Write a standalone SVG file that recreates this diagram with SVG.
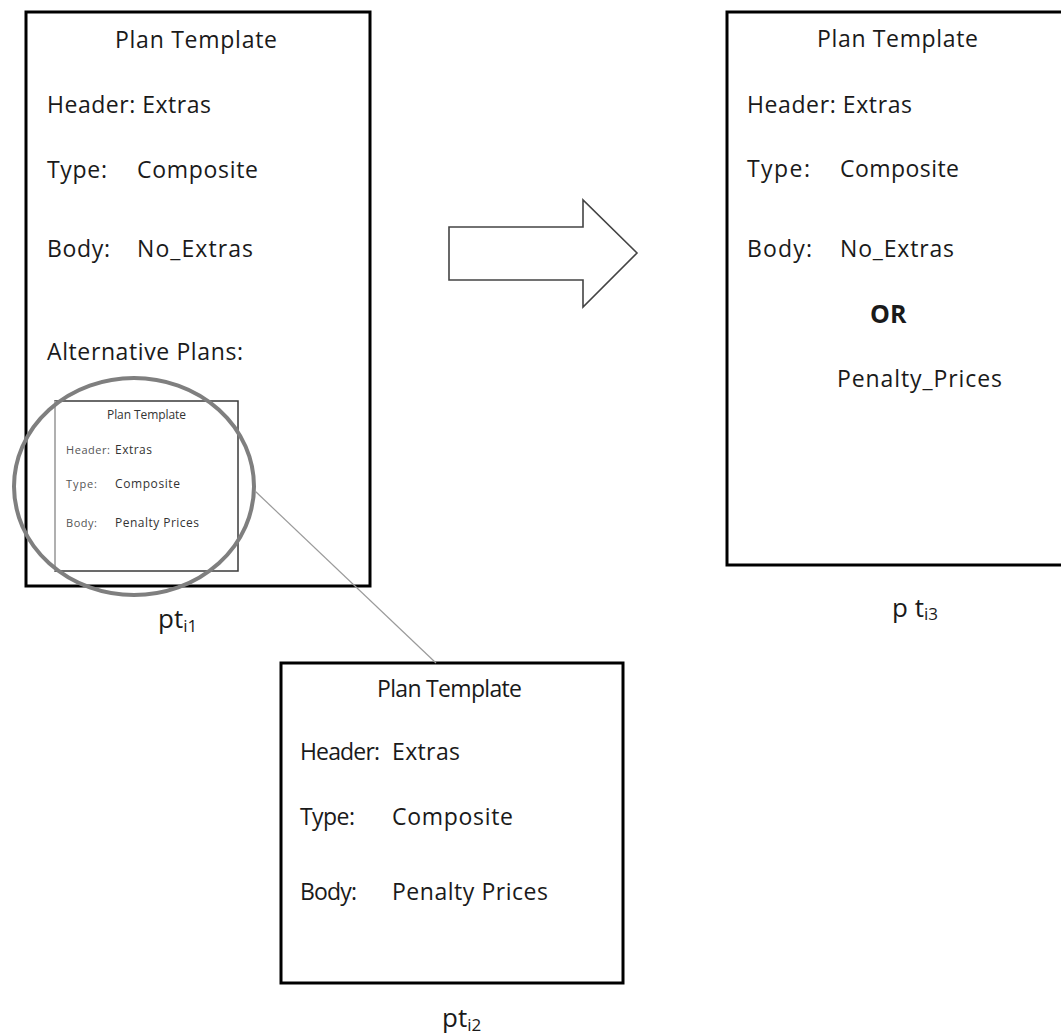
<svg xmlns="http://www.w3.org/2000/svg" width="1061" height="1034" viewBox="0 0 1061 1034">
  <style>
    .box { fill: #ffffff; stroke: #000000; stroke-width: 3; }
    .t { font-family: "Open Sans", "Liberation Sans", sans-serif; font-size: 23px; fill: #1a1a1a; }
    .mid { text-anchor: middle; }
    .b { font-weight: bold; font-size: 25px; }
    .s { font-family: "Open Sans", "Liberation Sans", sans-serif; font-size: 12px; fill: #333333; }
    .sl { fill: #555555; font-size: 11px; }
    .lbl { font-family: "Open Sans", "Liberation Sans", sans-serif; font-size: 26px; fill: #1a1a1a; }
    .sub { font-size: 17px; }
  </style>
  <rect width="1061" height="1034" fill="#ffffff"/>

  <!-- plan template pt_i1 with nested alternative plan -->
  <g id="pt-i1">
    <rect class="box" x="26" y="12" width="344" height="574"/>
    <text class="t mid" x="196" y="48" textLength="162">Plan Template</text>
    <text class="t" x="47" y="113" textLength="164">Header: Extras</text>
    <text class="t" x="47" y="178" textLength="60">Type:</text>
    <text class="t" x="137" y="178" textLength="121">Composite</text>
    <text class="t" x="47" y="257" textLength="63">Body:</text>
    <text class="t" x="137" y="257" textLength="116">No_Extras</text>
    <text class="t" x="47" y="360" textLength="196">Alternative Plans:</text>

    <g id="pt-i1-alt">
      <rect x="55" y="401" width="183" height="170" fill="#ffffff" stroke="#3a3a3a" stroke-width="1.5"/>
      <line x1="55" y1="401" x2="55" y2="571" stroke="#c8c8c8" stroke-width="1.5"/>
      <text class="s mid" x="146.5" y="419" textLength="79">Plan Template</text>
      <text class="s sl" x="66" y="454" textLength="44">Header:</text>
      <text class="s" x="115" y="454" textLength="37">Extras</text>
      <text class="s sl" x="66" y="488" textLength="31">Type:</text>
      <text class="s" x="115" y="488" textLength="65">Composite</text>
      <text class="s sl" x="66" y="527" textLength="31">Body:</text>
      <text class="s" x="115" y="527" textLength="84">Penalty Prices</text>
    </g>

    <!-- magnifier ring -->
    <ellipse cx="134" cy="486.5" rx="120" ry="108.5" fill="none" stroke="#7f7f7f" stroke-width="4"/>

    <text class="lbl" x="158" y="628">pt<tspan class="sub" dy="4">i1</tspan></text>
  </g>

  <!-- plan template pt_i2 (magnified alternative) -->
  <g id="pt-i2">
    <rect class="box" x="281" y="663" width="342" height="320"/>
    <text class="t mid" x="449.5" y="697" textLength="145">Plan Template</text>
    <text class="t" x="300" y="760" textLength="80">Header:</text>
    <text class="t" x="392" y="760" textLength="68">Extras</text>
    <text class="t" x="300" y="825" textLength="55">Type:</text>
    <text class="t" x="392" y="825" textLength="121">Composite</text>
    <text class="t" x="300" y="900" textLength="57">Body:</text>
    <text class="t" x="392" y="900" textLength="156">Penalty Prices</text>
    <text class="lbl" x="442" y="1027">pt<tspan class="sub" dy="4">i2</tspan></text>
  </g>

  <!-- plan template pt_i3 (merged result) -->
  <g id="pt-i3">
    <rect class="box" x="727" y="12" width="340" height="553"/>
    <text class="t mid" x="897.5" y="47" textLength="161">Plan Template</text>
    <text class="t" x="747" y="113" textLength="165">Header: Extras</text>
    <text class="t" x="747" y="177" textLength="63">Type:</text>
    <text class="t" x="840" y="177" textLength="119">Composite</text>
    <text class="t" x="747" y="257" textLength="65">Body:</text>
    <text class="t" x="840" y="257" textLength="114">No_Extras</text>
    <text class="t b" x="870" y="323">OR</text>
    <text class="t" x="837" y="387" textLength="165">Penalty_Prices</text>
    <text class="lbl" x="892" y="617">p t<tspan class="sub" dy="3">i3</tspan></text>
  </g>

  <!-- connectors -->
  <g id="connectors">
    <line x1="255" y1="491" x2="436" y2="663" stroke="#9a9a9a" stroke-width="1.2"/>
    <polygon points="449,227 583,227 583,200 637,253 583,307 583,280 449,280" fill="#ffffff" stroke="#444444" stroke-width="1.6" stroke-linejoin="miter"/>
  </g>
</svg>
